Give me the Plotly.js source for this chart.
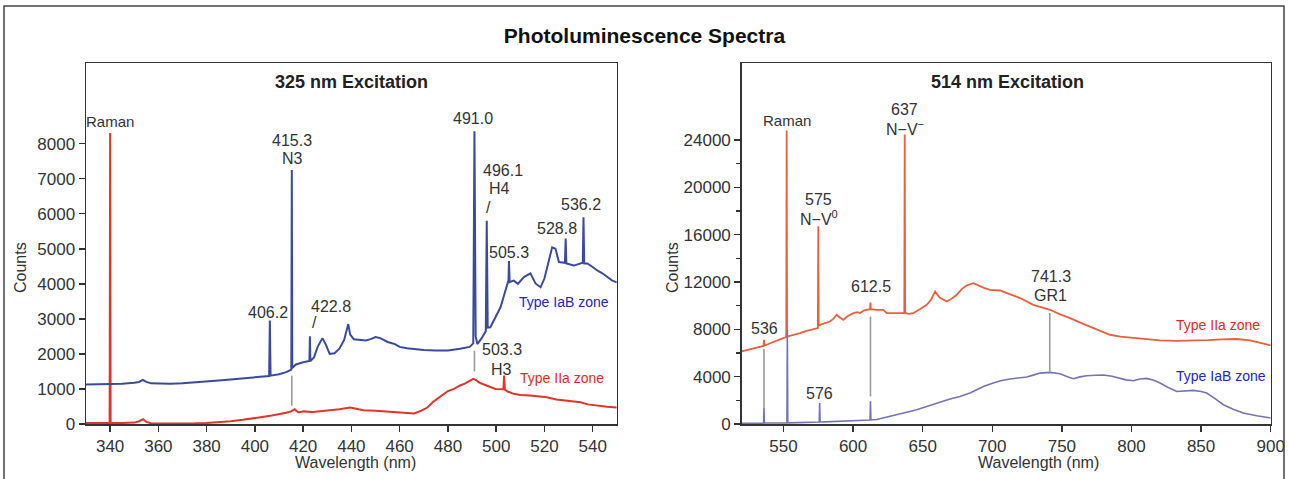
<!DOCTYPE html>
<html>
<head>
<meta charset="utf-8">
<script src="https://cdn.plot.ly/plotly-3.0.1.min.js"></script>
<style>html,body{margin:0;padding:0;background:#fff;}#chart{width:1289px;height:479px;}</style>
</head>
<body>
<div id="chart"></div>
<script>
// ---------- 325 nm excitation ----------
const wl325_IaB = [330,335,340,345,350,352,353.5,355,357,360,365,370,375,380,385,390,395,400,403,405.9,406.2,406.5,410,413,415.1,415.3,415.5,417,420,422.6,422.8,423.0,424.5,426,428,429.5,431,433,435,437,438.7,439.5,441,443,446,448,450,452,455,458,460,463,466,470,475,480,485,489,490.5,491.0,491.5,492.2,494,495.7,496.1,496.5,497.6,499.7,501.8,503.4,504.6,505.1,505.3,505.6,507.3,509,511.5,514.2,516.3,518.4,520,521.1,523.2,524.6,526,528.5,528.8,529.1,532.2,535.9,536.2,536.5,537.8,540,541.9,544,546,548,550];
const cnt325_IaB = [1130,1130,1140,1150,1180,1200,1260,1200,1160,1150,1150,1160,1180,1210,1240,1270,1300,1330,1350,1370,2950,1380,1420,1480,1550,7250,1600,1700,1760,1800,2500,1800,1900,2200,2450,2250,2000,2020,2150,2400,2850,2550,2420,2400,2380,2420,2480,2450,2340,2280,2200,2160,2140,2110,2100,2100,2150,2200,2300,8350,2500,2280,2450,2650,5800,2750,2760,3050,3330,3700,4000,4100,4650,4050,4090,4000,4190,4300,4010,3900,4150,4470,5040,5000,4620,4600,5290,4580,4520,4600,5900,4580,4580,4480,4380,4300,4190,4100,4040];

const wl325_IIa = [330,335,339.8,340.0,340.2,345,350,352,353.7,355,357,360,365,370,375,380,385,390,395,399,403,407,410,413,415,416.5,418,420,424,428,431,435,439.5,442,445,450,455,459,463,466,469,471.5,474,477,480,482.5,485,487,489,490.5,491.5,493,496,499.7,503.0,503.3,503.6,505,507.3,510,514,518,521,525,528,532,535,538,542,546,550];
const cnt325_IIa = [30,30,30,8300,30,30,40,80,140,60,20,15,10,10,20,30,50,80,120,150,200,240,270,320,360,420,330,360,340,370,380,420,470,430,390,380,350,330,300,300,380,470,640,780,940,1000,1100,1150,1220,1290,1260,1180,1100,1000,990,1380,980,920,860,830,810,780,760,700,670,640,620,560,520,490,470];

const mark325_wl = [415.3, 491.0];
const mark325_lo = [520, 1500];
const mark325_hi = [1380, 2090];

// ---------- 514 nm excitation ----------
const wl514_IIa = [520,525,530,535.7,536,536.3,540,545,549.9,552.0,552.3,552.6,556,561.9,566,570,574.7,575.0,575.3,576.2,580,583.4,586,588.2,590.5,593,596,600.2,603,605,608,612.2,612.5,612.8,617,621.7,624.2,630,636.8,637.1,637.4,640,643.3,648,652.9,656,658.9,662,667.3,671,674.5,678,681.6,686.4,690,694,698.4,705.6,712,720,729.5,735,741.5,748,755.9,764,772.6,778,784.6,792,801.3,810,820.5,832,844.4,855,865,875.6,885.2,893,900];
const cnt514_IIa = [6130,6300,6450,6600,7120,6620,6800,7000,7260,7350,24800,7380,7480,7680,7850,7980,8100,16700,8300,8380,8500,8660,8900,9230,9000,8800,9100,9370,9450,9370,9600,9700,10270,9700,9650,9650,9370,9370,9380,24450,9380,9300,9370,9700,10070,10500,11200,10700,10350,10600,10920,11400,11700,11900,11700,11500,11340,11280,11000,10640,10070,9850,9650,9300,8950,8520,8100,7800,7540,7380,7260,7150,7060,7030,7030,7080,7150,7180,7060,6850,6640];

const wl514_IaB = [520,530,535.7,536.0,536.3,545,552.5,552.8,553.1,560,570,575.7,576.0,576.3,580,590,597.8,605,612.2,612.5,612.8,617,621.7,627,633.7,640,645.7,652,657.6,664,669.6,676.8,684,688.8,694,700.7,706,712.7,718,724.7,730,734.3,741.5,748.7,754,758.2,763,767.8,774,779.8,786,791.8,796,801.3,806,810.9,816,820.5,826,832.5,838,844.4,850,854,860,866,873,880.3,890,900];
const cnt514_IaB = [60,60,70,1350,80,80,100,7950,100,120,150,170,1770,170,180,230,280,300,340,1910,340,380,500,680,870,1030,1200,1450,1690,1900,2110,2330,2620,2900,3180,3460,3650,3800,3880,3970,4150,4300,4360,4250,4000,3830,3980,4080,4120,4140,4040,3880,3730,3660,3800,3850,3700,3460,3100,2750,2800,2840,2750,2620,2150,1630,1250,930,700,510];

const mark514_wl = [536, 612.5, 741.3];
const mark514_lo = [1350, 2330, 4440];
const mark514_hi = [6330, 9080, 9370];

// tick labels
const ticks325_x = [340,360,380,400,420,440,460,480,500,520,540];
const ticks325_y = [0,1000,2000,3000,4000,5000,6000,7000,8000];
const ticks514_x = [550,600,650,700,750,800,850,900];
const ticks514_y = [0,4000,8000,12000,16000,20000,24000];
const minor514_y = [2000,6000,10000,14000,18000,22000];

// ---------- figure ----------
const W = 1289, H = 479;
const px = v => v / W;
const py = v => 1 - v / H;
const FONT = 'Liberation Sans, Arial, sans-serif';
const TXT = '#333333';

function markerTrace(xs, lo, hi, xa, ya) {
  const x = [], y = [];
  xs.forEach((v, i) => { x.push(v, v, null); y.push(lo[i], hi[i], null); });
  return {x, y, xaxis: xa, yaxis: ya, mode: 'lines', line: {color: '#9a9a9a', width: 1.6}, hoverinfo: 'skip', showlegend: false};
}

const traces = [
  markerTrace(mark325_wl, mark325_lo, mark325_hi, 'x', 'y'),
  {x: wl325_IIa, y: cnt325_IIa, xaxis: 'x', yaxis: 'y', mode: 'lines', line: {color: '#e0352a', width: 2}, name: 'Type IIa zone', showlegend: false},
  {x: wl325_IaB, y: cnt325_IaB, xaxis: 'x', yaxis: 'y', mode: 'lines', line: {color: '#3b4a9e', width: 2}, name: 'Type IaB zone', showlegend: false},
  markerTrace(mark514_wl, mark514_lo, mark514_hi, 'x2', 'y2'),
  {x: wl514_IIa, y: cnt514_IIa, xaxis: 'x2', yaxis: 'y2', mode: 'lines', line: {color: '#e8603e', width: 1.8}, name: 'Type IIa zone', showlegend: false},
  {x: wl514_IaB, y: cnt514_IaB, xaxis: 'x2', yaxis: 'y2', mode: 'lines', line: {color: '#7474b4', width: 1.6}, name: 'Type IaB zone', showlegend: false}
];

function ann(text, x, y, xref, yref, opts) {
  return Object.assign({text, x, y, xref, yref, showarrow: false, xanchor: 'center', yanchor: 'middle', font: {family: FONT, size: 16, color: TXT}}, opts || {});
}

const annotations = [
  // 325 panel
  ann('Raman', 340.0, 8637, 'x', 'y', {font: {family: FONT, size: 15, color: TXT}}),
  ann('415.3', 415.5, 8094, 'x', 'y'),
  ann('N3', 415.5, 7580, 'x', 'y'),
  ann('406.2', 405.5, 3180, 'x', 'y'),
  ann('422.8', 431.7, 3351, 'x', 'y'),
  ann('/', 424.6, 2894, 'x', 'y'),
  ann('491.0', 490.2, 8723, 'x', 'y'),
  ann('496.1', 503.0, 7237, 'x', 'y'),
  ann('H4', 501.4, 6723, 'x', 'y'),
  ann('/', 496.8, 6180, 'x', 'y'),
  ann('505.3', 505.5, 4894, 'x', 'y'),
  ann('528.8', 525.4, 5580, 'x', 'y'),
  ann('536.2', 535.0, 6266, 'x', 'y'),
  ann('503.3', 502.6, 2123, 'x', 'y'),
  ann('H3', 502.2, 1551, 'x', 'y'),
  ann('Type IaB zone', 528.3, 3474, 'x', 'y', {font: {family: FONT, size: 14, color: '#2424c8'}}),
  ann('Type IIa zone', 527.1, 1323, 'x', 'y', {font: {family: FONT, size: 14, color: '#e02a2a'}}),
  // 514 panel
  ann('Raman', 552.3, 25630, 'x2', 'y2', {font: {family: FONT, size: 15, color: TXT}}),
  ann('575', 575.5, 19000, 'x2', 'y2'),
  ann('N\u2212V<sup>0</sup>', 575.5, 17390, 'x2', 'y2'),
  ann('637', 636.8, 26540, 'x2', 'y2'),
  ann('N\u2212V<sup>\u2212</sup>', 637.0, 24990, 'x2', 'y2'),
  ann('612.5', 612.7, 11620, 'x2', 'y2'),
  ann('536', 536.7, 8105, 'x2', 'y2'),
  ann('576', 576.2, 2560, 'x2', 'y2'),
  ann('741.3', 742.0, 12460, 'x2', 'y2'),
  ann('GR1', 742.0, 10830, 'x2', 'y2'),
  ann('Type IIa zone', 862.4, 8384, 'x2', 'y2', {font: {family: FONT, size: 14, color: '#e02a2a'}}),
  ann('Type IaB zone', 864.2, 4078, 'x2', 'y2', {font: {family: FONT, size: 14, color: '#2424c8'}}),
  // panel titles
  ann('<b>325 nm Excitation</b>', px(351), py(82), 'paper', 'paper', {font: {family: FONT, size: 18, color: '#222'}}),
  ann('<b>514 nm Excitation</b>', px(1007), py(82), 'paper', 'paper', {font: {family: FONT, size: 18, color: '#222'}}),
  // axis titles
  ann('Counts', px(20), py(268), 'paper', 'paper', {textangle: -90, font: {family: FONT, size: 16, color: TXT}}),
  ann('Counts', px(672), py(268), 'paper', 'paper', {textangle: -90, font: {family: FONT, size: 16, color: TXT}}),
  ann('Wavelength (nm)', px(355), py(462), 'paper', 'paper', {font: {family: FONT, size: 16, color: TXT}}),
  ann('Wavelength (nm)', px(1038), py(462), 'paper', 'paper', {font: {family: FONT, size: 16, color: TXT}})
];

const axisCommon = {
  showgrid: false, zeroline: false, showline: true, mirror: true,
  linecolor: '#333', linewidth: 1.5, ticks: 'outside', ticklen: 6, tickwidth: 1.5, tickcolor: '#333',
  tickfont: {family: FONT, size: 17, color: TXT}, tickmode: 'array', tickformat: 'd', fixedrange: true
};

const layout = {
  width: W, height: H,
  margin: {l: 0, r: 0, t: 0, b: 0},
  paper_bgcolor: '#fff', plot_bgcolor: '#fff',
  showlegend: false,
  title: {text: '<b>Photoluminescence Spectra</b>', x: 0.5, xanchor: 'center', y: py(36), yanchor: 'middle', font: {family: 'Liberation Sans Narrow, Liberation Sans, Arial, sans-serif', size: 21, color: '#111'}},
  xaxis: Object.assign({}, axisCommon, {domain: [px(86), px(616.8)], range: [330, 550], tickvals: ticks325_x, ticktext: ticks325_x.map(String), anchor: 'y'}),
  yaxis: Object.assign({}, axisCommon, {domain: [1 - 424 / H, 1 - 63 / H], range: [0, 10300], tickvals: ticks325_y, ticktext: ticks325_y.map(String), anchor: 'x'}),
  xaxis2: Object.assign({}, axisCommon, {domain: [px(741.7), px(1270.7)], range: [520, 900], tickvals: ticks514_x, ticktext: ticks514_x.map(String), anchor: 'y2'}),
  yaxis2: Object.assign({}, axisCommon, {domain: [1 - 424 / H, 1 - 63 / H], range: [0, 30500], tickvals: ticks514_y, ticktext: ticks514_y.map(String), anchor: 'x2',
    minor: {tickmode: 'array', tickvals: minor514_y, ticks: 'outside', ticklen: 4, tickwidth: 1.2, tickcolor: '#333'}}),
  annotations: annotations,
  shapes: [
    {type: 'rect', xref: 'paper', yref: 'paper', x0: px(4), x1: px(1284), y0: -0.2, y1: py(6), line: {color: '#444', width: 1.5}, fillcolor: 'rgba(0,0,0,0)'}
  ]
};

Plotly.newPlot('chart', traces, layout, {staticPlot: true, displayModeBar: false});
</script>
</body>
</html>
